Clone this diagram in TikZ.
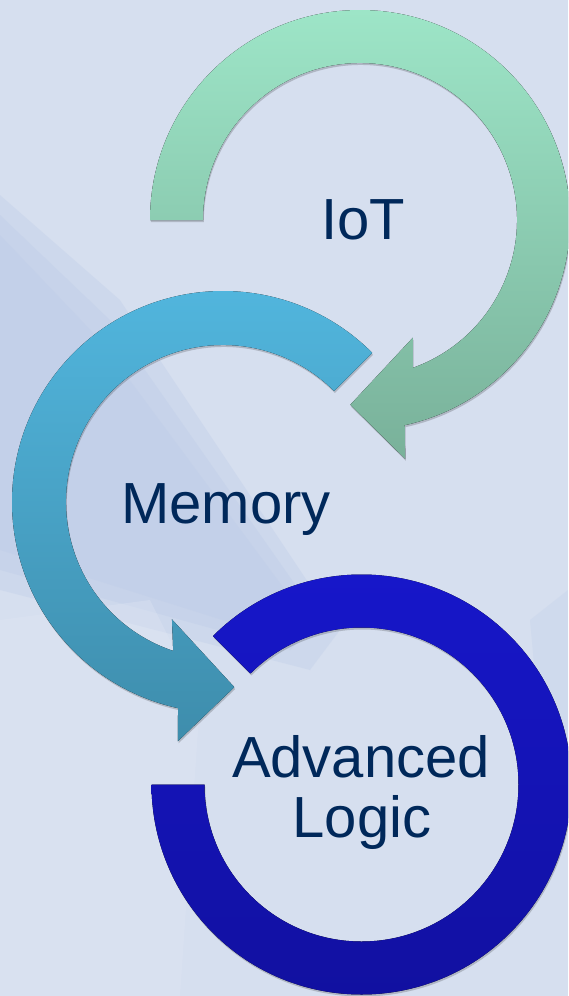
\documentclass[tikz,border=0pt]{standalone}
\usepackage{fontspec}
\setmainfont{Liberation Sans}
\usetikzlibrary{shadows}
\definecolor{bgbase}{RGB}{214,223,239}
\definecolor{bgband}{RGB}{182,199,230}
\definecolor{bglight}{RGB}{226,232,245}
\definecolor{iottop}{RGB}{157,229,199}
\definecolor{iotbot}{RGB}{121,177,154}
\definecolor{memtop}{RGB}{82,183,223}
\definecolor{membot}{RGB}{62,141,172}
\definecolor{ringtop}{RGB}{23,23,204}
\definecolor{ringbot}{RGB}{17,16,158}
\definecolor{navy}{RGB}{0,40,90}
\tikzset{
  shapeshadow/.style={drop shadow={shadow xshift=0.8pt,shadow yshift=-2pt,opacity=0.18,fill=black}},
  lbl/.style={text=navy,font=\fontsize{58}{60}\selectfont,inner sep=0pt,anchor=base},
}
\begin{document}
\begin{tikzpicture}[x=1pt,y=-1pt]
\useasboundingbox (0,0) rectangle (568,996);
\clip (0,0) rectangle (568,996);
% background
\fill[bgbase] (0,0) rectangle (568,996);
\fill[bgband,opacity=0.25] (0,195) -- (120,300) -- (340,630) -- (310,670) -- (0,590) -- cycle;
\fill[bgband,opacity=0.25] (0,215) -- (110,320) -- (320,620) -- (290,650) -- (0,570) -- cycle;
\fill[bgband,opacity=0.2] (0,235) -- (100,340) -- (300,610) -- (270,635) -- (0,550) -- cycle;
\fill[bglight,opacity=0.3] (0,620) -- (150,600) -- (200,700) -- (180,996) -- (0,996) -- cycle;
\fill[bgband,opacity=0.2] (530,620) -- (568,590) -- (568,740) -- (540,730) -- cycle;
% IoT circular arrow
\begin{scope}[shift={(360,220)}]
\fill[shapeshadow,top color=iottop,bottom color=iotbot]
  (180:210) arc[start angle=180,end angle=437.7,radius=210]
  -- (439.3:243) -- (453:185) -- (425.8:129) -- (430.3:157)
  arc[start angle=430.3,end angle=180,radius=157] -- cycle;
\end{scope}
% Memory circular arrow
\begin{scope}[shift={(223,502)}]
\fill[shapeshadow,top color=memtop,bottom color=membot]
  (315:211) arc[start angle=315,end angle=102.3,radius=211]
  -- (100.7:243.5) -- (86.5:185.5) -- (113.5:128) -- (108.5:157)
  arc[start angle=108.5,end angle=315,radius=157] -- cycle;
\end{scope}
% Advanced Logic ring
\begin{scope}[shift={(361.5,784.5)}]
\fill[shapeshadow,top color=ringtop,bottom color=ringbot]
  (225:210) arc[start angle=225,end angle=540,radius=210]
  -- (540:157) arc[start angle=540,end angle=225,radius=157] -- cycle;
\end{scope}
% labels
\node[lbl] (iot) at (363,239) {IoT};
\node[lbl] (memory) at (226,523) {Memory};
\node[lbl] (advanced) at (361,777) {Advanced};
\node[lbl] (logic) at (362,837) {Logic};
\end{tikzpicture}
\end{document}
